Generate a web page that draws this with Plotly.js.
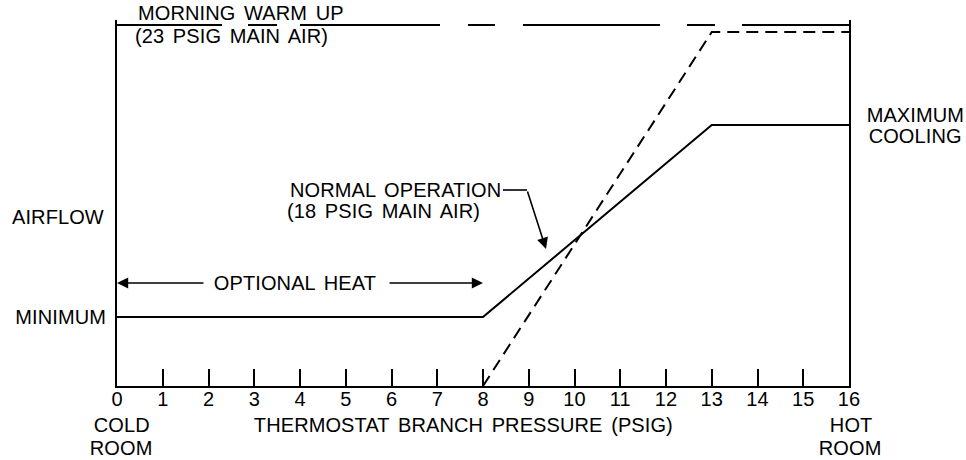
<!DOCTYPE html>
<html>
<head>
<meta charset="utf-8">
<script src="https://cdn.plot.ly/plotly-3.0.1.min.js"></script>
<style>
  html, body { margin: 0; padding: 0; background: #fff; }
  #chart { width: 966px; height: 460px; }
  .main-svg text { letter-spacing: 0.1px; word-spacing: 3px; }
</style>
</head>
<body>
<div id="chart"></div>
<script>
// ---- data (thermostat branch pressure, PSIG vs. relative airflow) ----
const tickValues = [0,1,2,3,4,5,6,7,8,9,10,11,12,13,14,15,16];
const tickLabels = ["0","1","2","3","4","5","6","7","8","9","10","11","12","13","14","15","16"];

// Normal operation (18 PSIG main air): solid
const normalX = [0, 8, 13, 16];
const normalY = [6.9, 6.9, 26.1, 26.1];

// 23 PSIG main air: dashed
const warmX = [8, 13, 16];
const warmY = [0, 35.4, 35.4];

// Morning warm up level
const morningX = [0, 16];
const morningY = [36.1, 36.1];

// Optional heat range
const optHeatX = [0, 8];
const optHeatY = 10.3;

// ---- pixel helpers for label placement ----
const L = 117, R = 849, T = 20, B = 386;
const XMAX = 16, YMAX = 36.6;
const px2x = p => (p - L) / (R - L) * XMAX;
const py2y = p => (B - p) / (B - T) * YMAX;
const px2p = p => (p - L) / (R - L);
const py2p = p => (B - p) / (B - T);

const FONT = {family: "Liberation Sans, Arial, sans-serif", size: 20, color: "#000"};

function label(text, px, py, anchor) {
  return {text: text, x: px2p(px), y: py2p(py), xref: "paper", yref: "paper",
          xanchor: anchor || "left", yanchor: "middle", showarrow: false,
          font: FONT, align: anchor || "left", borderpad: 0};
}
function arrow(tipPx, tipPy, tailPx, tailPy) {
  return {text: "", x: px2x(tipPx), y: py2y(tipPy), ax: px2x(tailPx), ay: py2y(tailPy),
          xref: "x", yref: "y", axref: "x", ayref: "y", showarrow: true,
          arrowhead: 2, arrowsize: 1.4, arrowwidth: 1.6, arrowcolor: "#000",
          standoff: 0, startstandoff: 0};
}

const traces = [
  {x: normalX, y: normalY, mode: "lines", line: {color: "#000", width: 2}},
  {x: warmX, y: warmY, mode: "lines", line: {color: "#000", width: 2, dash: "12px,7px"}},
  {x: morningX, y: morningY, mode: "lines",
   line: {color: "#000", width: 2,
          dash: "105px,26px,29px,23px,140px,28px,27px,28px,137px,27px,28px,27px,200px"}}
];

const annotations = [
  label("MORNING WARM UP", 137, 13),
  label("(23 PSIG MAIN AIR)", 134, 36),
  label("NORMAL OPERATION", 289, 190),
  label("(18 PSIG MAIN AIR)", 286, 211),
  arrow(546, 249, 527, 190),
  label("AIRFLOW", 11, 217),
  label("MINIMUM", 107, 317, "right"),
  label("MAXIMUM", 915, 115, "center"),
  label("COOLING", 915, 136, "center"),
  label("COLD", 122, 425, "center"),
  label("ROOM", 121, 448, "center"),
  label("HOT", 851, 425, "center"),
  label("ROOM", 850, 448, "center"),
  label("THERMOSTAT BRANCH PRESSURE (PSIG)", 463, 425, "center"),
  label("OPTIONAL HEAT", 295, 283, "center"),
  {text: "", x: optHeatX[0], y: optHeatY, ax: px2x(205), ay: optHeatY,
   xref: "x", yref: "y", axref: "x", ayref: "y", showarrow: true,
   arrowhead: 2, arrowsize: 1.4, arrowwidth: 1.6, arrowcolor: "#000", standoff: 0},
  {text: "", x: optHeatX[1], y: optHeatY, ax: px2x(388), ay: optHeatY,
   xref: "x", yref: "y", axref: "x", ayref: "y", showarrow: true,
   arrowhead: 2, arrowsize: 1.4, arrowwidth: 1.6, arrowcolor: "#000", standoff: 0}
];

const shapes = [
  {type: "line", xref: "x", yref: "y", x0: px2x(503), x1: px2x(527), y0: py2y(190), y1: py2y(190),
   line: {color: "#000", width: 1.6}}
];

const layout = {
  width: 966, height: 460,
  margin: {l: L, r: 966 - R, t: T, b: 460 - B},
  paper_bgcolor: "#fff", plot_bgcolor: "#fff",
  showlegend: false,
  xaxis: {range: [0, XMAX], showgrid: false, zeroline: false,
          showline: true, linecolor: "#000", linewidth: 2,
          tickmode: "array", tickvals: tickValues, ticktext: tickLabels,
          ticks: "inside", ticklen: 17, tickwidth: 2, tickcolor: "#000",
          tickfont: FONT, ticklabelstandoff: -6, fixedrange: true},
  yaxis: {range: [0, YMAX], showgrid: false, zeroline: false,
          showline: true, mirror: true, linecolor: "#000", linewidth: 2,
          showticklabels: false, ticks: "", fixedrange: true},
  annotations: annotations,
  shapes: shapes
};

Plotly.newPlot("chart", traces, layout, {staticPlot: true, displayModeBar: false});
</script>
</body>
</html>
